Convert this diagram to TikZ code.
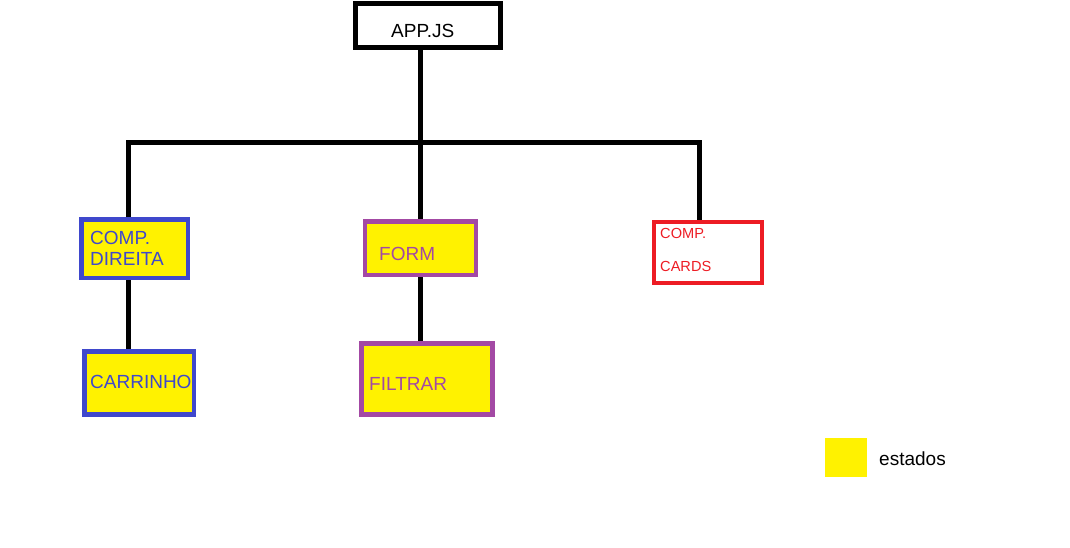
\documentclass[tikz,border=0pt]{standalone}
\usepackage{fontspec}
\setmainfont{Liberation Sans}
\definecolor{paintblue}{HTML}{3F48CC}
\definecolor{paintpurple}{HTML}{A349A4}
\definecolor{paintred}{HTML}{ED1C24}
\definecolor{paintyellow}{HTML}{FFF200}
\tikzset{
  caixa/.style={draw, line width=4.5pt, inner sep=0pt},
  estado/.style={caixa, fill=paintyellow},
  rotulo/.style={anchor=west, inner sep=0pt, font=\fontsize{19}{21}\selectfont, align=left},
  ligacao/.style={line width=5pt, line join=miter}
}
\begin{document}
\begin{tikzpicture}[x=1pt,y=-1pt]
    \useasboundingbox (0,0) rectangle (1070,547);

    % componente principal
    \node[caixa, line width=5pt, minimum width=145pt, minimum height=44pt] (app) at (427.5,25) {};
    \node[rotulo] (apptxt) at (391,31) {APP.JS};

    % componentes filhos
    \node[estado, draw=paintblue, minimum width=106.5pt, minimum height=58.5pt] (direita) at (134.75,248.75) {};
    \node[rotulo, text=paintblue] (direitatxt) at (90,248) {COMP.\\DIREITA};
    \node[estado, draw=paintblue, minimum width=109.5pt, minimum height=63pt] (carrinho) at (139.25,383) {};
    \node[rotulo, text=paintblue] (carrinhotxt) at (90,382) {CARRINHO};

    \node[estado, draw=paintpurple, minimum width=111pt, minimum height=53.5pt] (form) at (420.5,248.25) {};
    \node[rotulo, text=paintpurple] (formtxt) at (379,254) {FORM};
    \node[estado, draw=paintpurple, minimum width=131pt, minimum height=71pt] (filtrar) at (427,379) {};
    \node[rotulo, text=paintpurple] (filtrartxt) at (369,384) {FILTRAR};

    \node[caixa, draw=paintred, line width=4pt, minimum width=108pt, minimum height=61pt] (cards) at (707.5,252) {};
    \node[rotulo, text=paintred, font=\fontsize{14.6}{33}\selectfont] (cardstxt) at (660,249.5) {COMP.\\CARDS};

    % legenda
    \node[fill=paintyellow, inner sep=0pt, minimum width=42pt, minimum height=39pt] (legenda) at (846,457.5) {};
    \node[rotulo] (legendatxt) at (879,459) {estados};

    % ligacoes
    \coordinate (busL) at (128,142);
    \coordinate (busM) at (420,142);
    \coordinate (busR) at (699,142);
    \draw[ligacao] (busM |- app.south) -- (busM |- form.north);
    \draw[ligacao] (busL |- direita.north) -- (busL) -- (busR) -- (busR |- cards.north);
    \draw[ligacao] (busL |- direita.south) -- (busL |- carrinho.north);
    \draw[ligacao] (busM |- form.south) -- (busM |- filtrar.north);
\end{tikzpicture}
\end{document}
